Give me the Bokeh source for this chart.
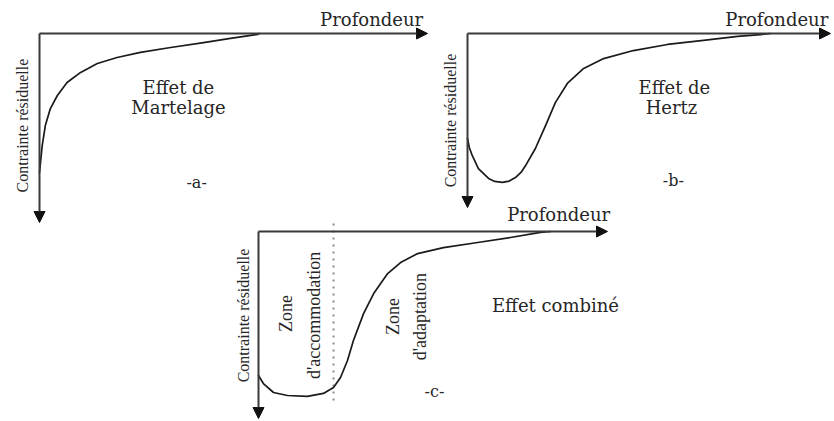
import math
from bokeh.plotting import figure
from bokeh.models import Range1d, Arrow, NormalHead
from bokeh.core.properties import value
from bokeh.embed import file_html
from bokeh.resources import INLINE

# ---------------- data (normalised depth / residual stress, compressive < 0) ----------------
depth_a = [0.0, 0.007, 0.015, 0.028, 0.046, 0.071, 0.106, 0.149, 0.200, 0.260, 0.338, 0.423, 0.492, 0.562, 0.567]
stress_a = [-0.735, -0.593, -0.487, -0.397, -0.328, -0.259, -0.206, -0.159, -0.127, -0.100, -0.074, -0.048, -0.026, -0.005, 0.0]

depth_b = [0.0, 0.005, 0.013, 0.030, 0.058, 0.075, 0.096, 0.115, 0.132, 0.148, 0.160, 0.187, 0.215, 0.242, 0.275, 0.320, 0.375, 0.457, 0.551, 0.650, 0.744, 0.807, 0.835]
stress_b = [-0.603, -0.655, -0.701, -0.776, -0.833, -0.850, -0.856, -0.848, -0.828, -0.797, -0.759, -0.661, -0.529, -0.397, -0.287, -0.201, -0.144, -0.098, -0.063, -0.040, -0.017, -0.006, 0.0]

depth_c = [0.0, 0.014, 0.043, 0.083, 0.140, 0.186, 0.215, 0.235, 0.255, 0.272, 0.301, 0.330, 0.370, 0.407, 0.456, 0.530, 0.628, 0.722, 0.808, 0.837]
stress_c = [-0.770, -0.813, -0.861, -0.877, -0.882, -0.866, -0.834, -0.781, -0.690, -0.583, -0.439, -0.332, -0.225, -0.166, -0.118, -0.086, -0.059, -0.032, -0.005, 0.0]
zone_boundary_c = 0.215   # accommodation / adaptation limit

x_title = "Profondeur"
y_title = "Contrainte résiduelle"
effect_a = ["Effet de", "Martelage"]
effect_b = ["Effet de", "Hertz"]
effect_c = ["Effet combiné"]
tags = ["-a-", "-b-", "-c-"]
zones_c = ["Zone", "d'accommodation", "Zone", "d'adaptation"]

# ---------------- layout ----------------
W, H = 834, 421
INK = "#262626"
AXIS = "#3a3a3a"
HFONT = value("DejaVu Serif")
VFONT = value("Liberation Serif")

p = figure(width=W, height=H, x_range=Range1d(0, W), y_range=Range1d(0, H),
           output_backend="svg", toolbar_location=None, min_border=0,
           x_axis_location=None, y_axis_location=None, outline_line_color=None)
p.grid.visible = False

# panel geometry in picture pixels: origin (x, y) and arrow tips
panels = {
    "a": dict(ox=39, oy=33, tx=427, ty=222),
    "b": dict(ox=467, oy=33, tx=830, ty=207),
    "c": dict(ox=258, oy=231, tx=607, ty=418),
}
for k, g in panels.items():
    kx = g["tx"] - g["ox"]
    ky = g["ty"] - g["oy"]
    xs = -g["ox"] / kx
    ys = -(H - g["oy"]) / ky
    p.extra_x_ranges[k] = Range1d(xs, xs + W / kx)
    p.extra_y_ranges[k] = Range1d(ys, ys + H / ky)


def axes(k):
    for xe, ye in ((1.0, 0.0), (0.0, -1.0)):
        p.add_layout(Arrow(x_start=0, y_start=0, x_end=xe, y_end=ye,
                           x_range_name=k, y_range_name=k,
                           line_color=AXIS, line_width=2,
                           end=NormalHead(size=11, fill_color="#111111", line_color="#111111")))


def htext(k, xs, ys, texts, size="18px"):
    p.text(x=xs, y=ys, text=texts, x_range_name=k, y_range_name=k,
           text_font=HFONT, text_font_size=size, text_color=INK,
           text_align="center", text_baseline="middle")


def vtext(k, xs, ys, texts, size="16px"):
    p.text(x=xs, y=ys, text=texts, x_range_name=k, y_range_name=k, angle=math.pi / 2,
           text_font=VFONT, text_font_size=size, text_color=INK,
           text_align="center", text_baseline="middle")


def curve(k, xs, ys):
    p.line(xs, ys, x_range_name=k, y_range_name=k, line_color="#1a1a1a",
           line_width=1.7, line_join="round", line_cap="round")


# panel a
axes("a")
curve("a", depth_a, stress_a)
htext("a", [0.856], [0.074], [x_title])
htext("a", [0.358, 0.358], [-0.286, -0.392], effect_a)
htext("a", [0.405], [-0.788], [tags[0]], size="16px")
vtext("a", [-0.044], [-0.487], [y_title])

# panel b
axes("b")
curve("b", depth_b, stress_b)
htext("b", [0.852], [0.080], [x_title])
htext("b", [0.570, 0.562], [-0.310, -0.425], effect_b)
htext("b", [0.567], [-0.845], [tags[1]], size="16px")
vtext("b", [-0.047], [-0.500], [y_title])

# panel c
axes("c")
p.segment(x0=[zone_boundary_c], y0=[0.043], x1=[zone_boundary_c], y1=[-0.92],
          x_range_name="c", y_range_name="c", line_color="#8a8a8a", line_width=2, line_dash="2 5")
curve("c", depth_c, stress_c)
htext("c", [0.860], [0.091], [x_title])
htext("c", [0.851], [-0.396], effect_c)
htext("c", [0.504], [-0.856], [tags[2]], size="16px")
vtext("c", [-0.043], [-0.449], [y_title])
vtext("c", [0.080, 0.158, 0.384, 0.464], [-0.439, -0.449, -0.455, -0.455], zones_c, size="18px")

open("out.html", "w").write(file_html(p, INLINE))
